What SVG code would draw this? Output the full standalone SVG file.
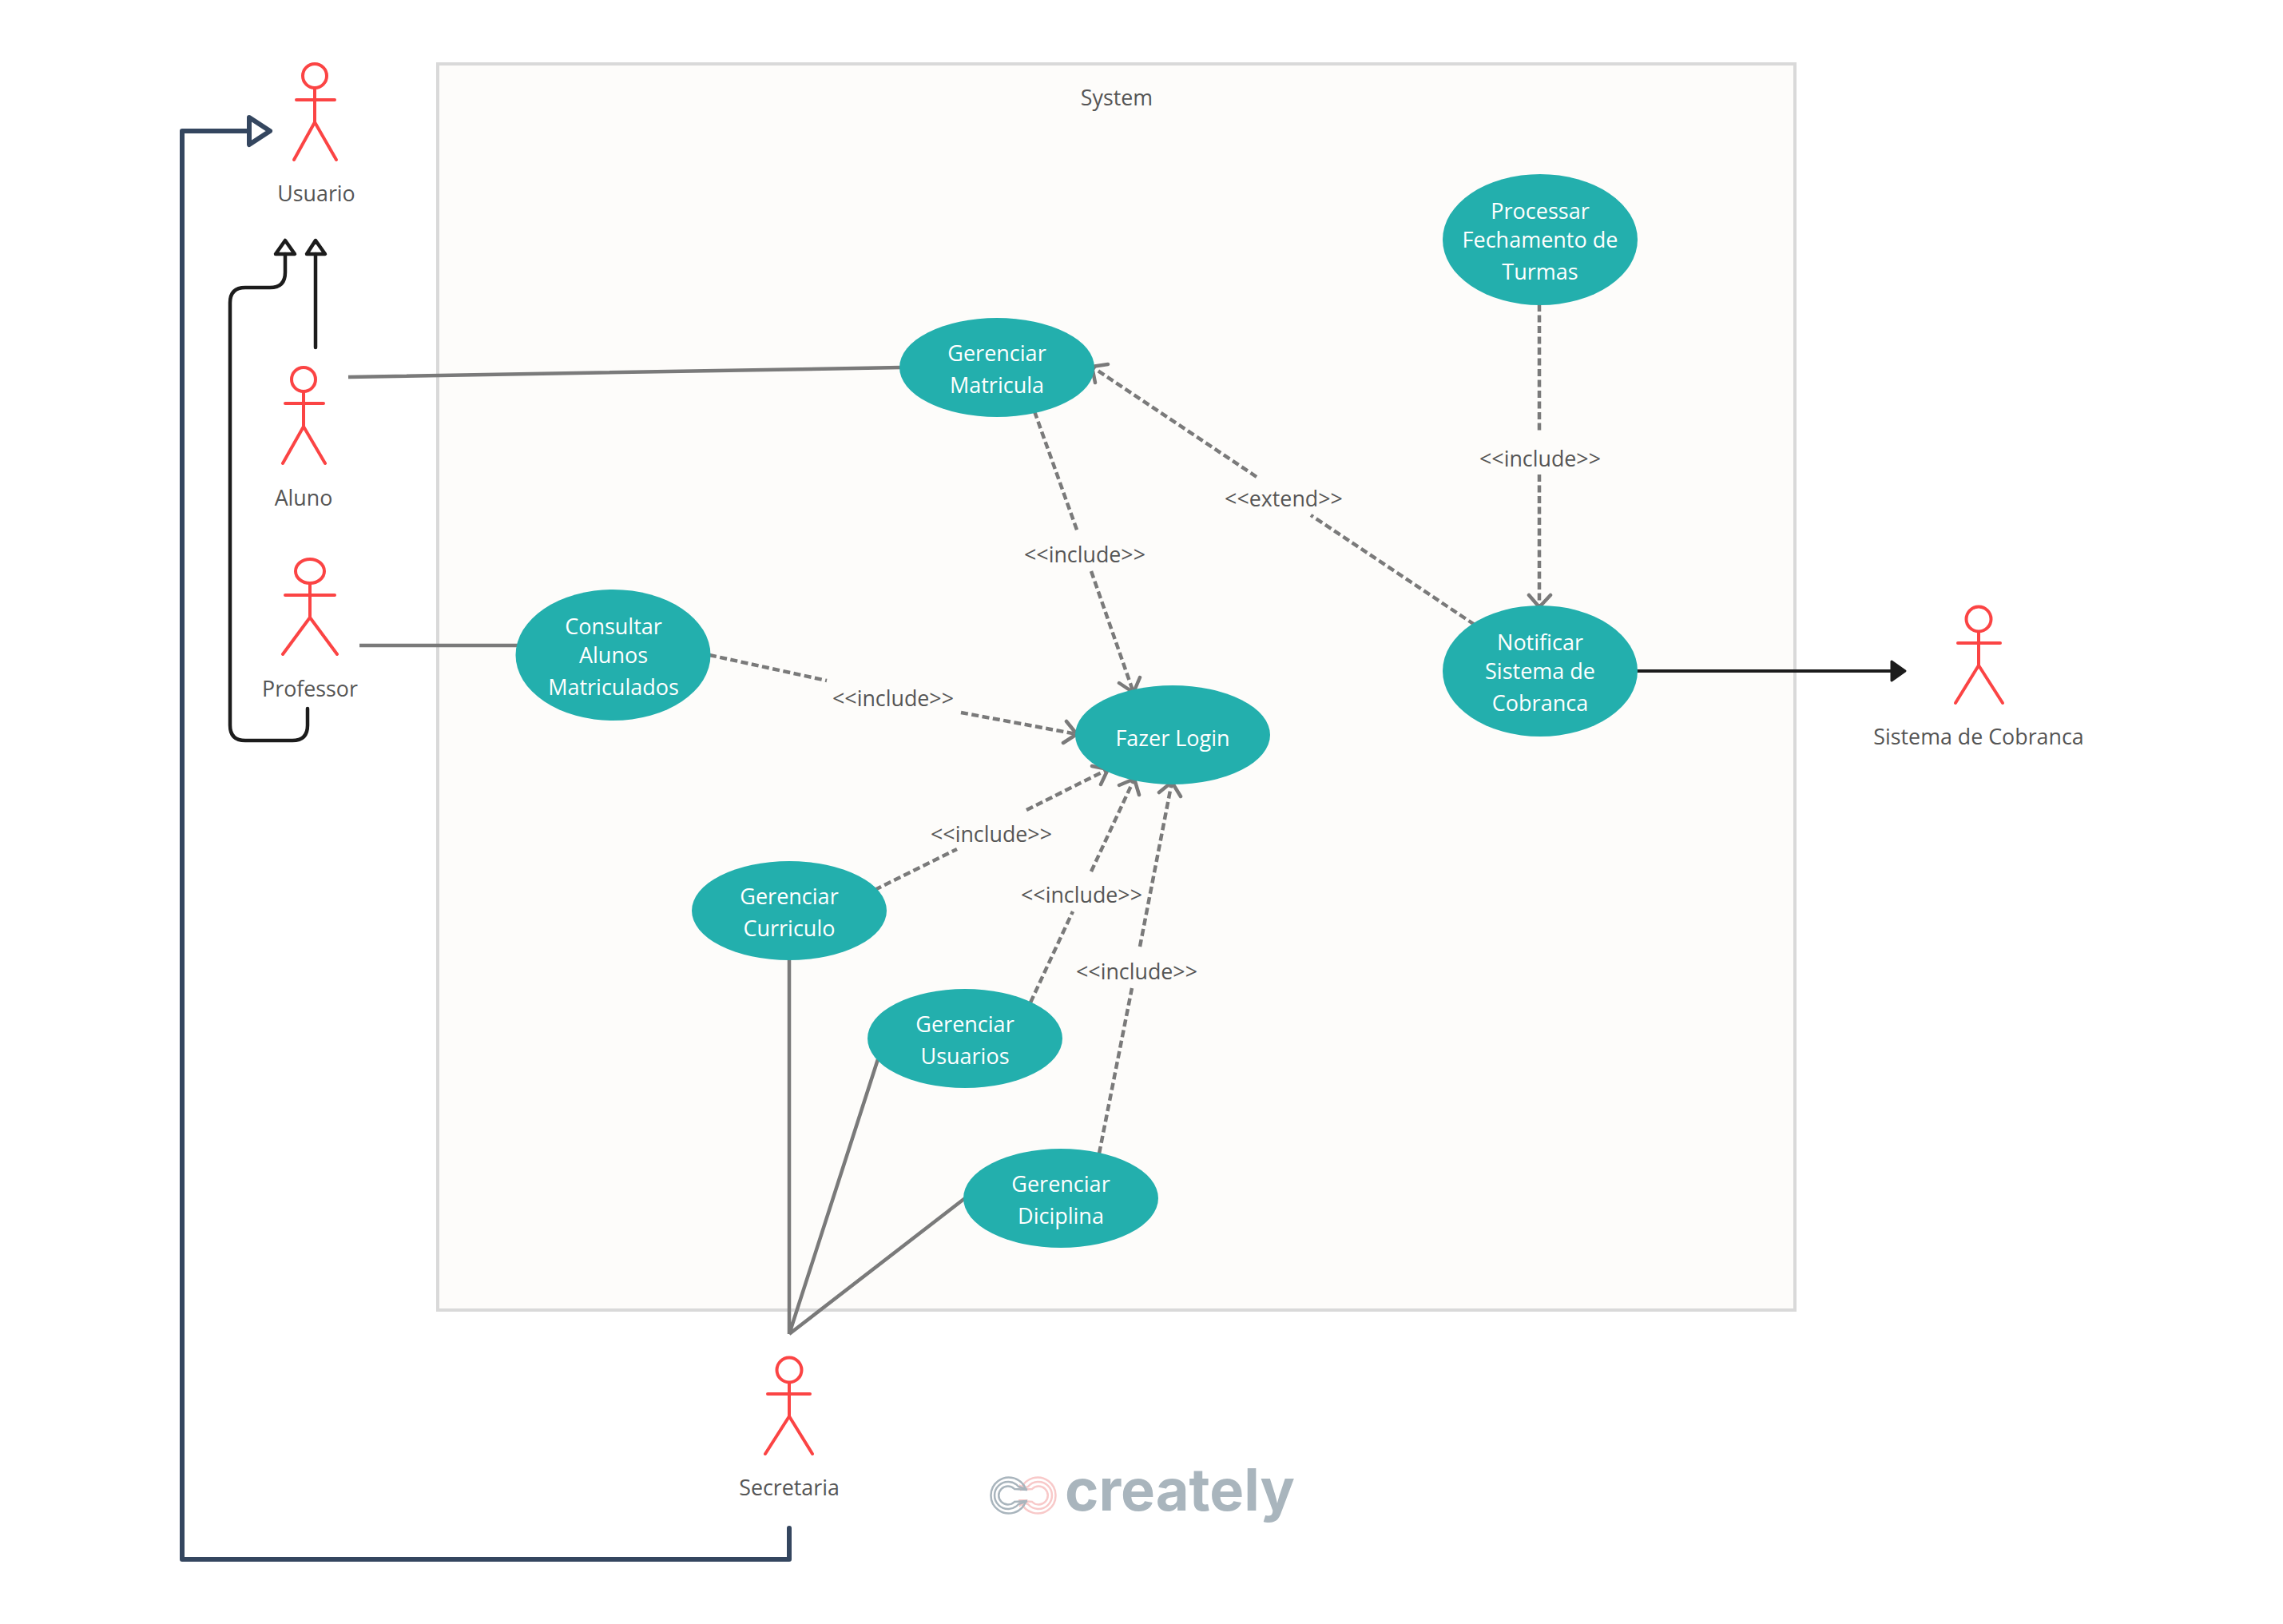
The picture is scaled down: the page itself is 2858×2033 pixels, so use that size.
<svg xmlns="http://www.w3.org/2000/svg" width="2858" height="2033" viewBox="0 0 2858 2033">
<defs>
<style>
.uc{fill:#23afad}
.ut{fill:#fff;font:27px "Open Sans","Noto Sans",sans-serif;text-anchor:middle}
.lb{fill:#555;font:26.8px "Open Sans","Noto Sans",sans-serif;text-anchor:middle}
.act{fill:none;stroke:#fb4444;stroke-width:4;stroke-linecap:round;stroke-linejoin:round}
.assoc{fill:none;stroke:#7a7a7a;stroke-width:4.5}
.dash{fill:none;stroke:#7a7a7a;stroke-width:4.5;stroke-dasharray:9 4.5}
.dh{fill:none;stroke:#7a7a7a;stroke-width:4.5;stroke-linecap:round;stroke-linejoin:round}
.gen{fill:none;stroke:#1c1c1c;stroke-width:4.5;stroke-linecap:round;stroke-linejoin:round}
</style>
</defs>
<rect width="2858" height="2033" fill="#fff"/>
<g id="system"><rect x="548" y="80" width="1699" height="1560" fill="#fdfcfa" stroke="#d9d9d9" stroke-width="4"/><text class="lb" x="1398" y="132">System</text></g>
<g id="connectors">
<path class="assoc" d="M436 472L1128 460M450 808H650M988 1200V1670M1099 1326L988 1670M1208 1500L988 1670"/>
<path class="dash" d="M1295 515L1349 666M1366 715L1419 867M1846 782L1641 645M1573 597L1367 459M1927 381V543M1927 594V759M888 820L1035 852M1203 892L1348 919M1095 1114L1198 1063M1285 1014L1387 963M1290 1255L1343 1141M1366 1091L1420 975M1376 1444L1417 1237M1427 1185L1467 979"/>
<path class="dh" d="M1401 855L1419 867L1427 848M1387 456L1367 459L1371 479M1914 745L1927 760L1941 745M1335 903L1348 919L1331 930M1367 959L1387 963L1378 982M1401 983L1420 975L1426 995M1451 992L1467 979L1478 997"/>
<path fill="none" stroke="#34465f" stroke-width="6" stroke-linecap="round" stroke-linejoin="round" d="M988 1913V1952H228V164H312"/>
<path fill="#fff" stroke="#34465f" stroke-width="6" stroke-linejoin="round" d="M312 147L338 164L312 181Z"/>
<path class="gen" d="M395 435V318M385 887V908Q385 927 366 927H307Q288 927 288 908V379Q288 360 307 360H338Q357 360 357 341V318"/>
<path class="gen" d="M384 318L395 301L407 318ZM345 318L357 301L369 318Z"/>
<path stroke="#1c1c1c" stroke-width="4" d="M2049 840H2372"/><path fill="#1c1c1c" stroke="#1c1c1c" stroke-width="3" stroke-linejoin="round" d="M2368 828L2385 840L2368 852Z"/>
<text class="lb" x="1358" y="704">&lt;&lt;include&gt;&gt;</text>
<text class="lb" x="1607" y="634">&lt;&lt;extend&gt;&gt;</text>
<text class="lb" x="1928" y="584">&lt;&lt;include&gt;&gt;</text>
<text class="lb" x="1118" y="884">&lt;&lt;include&gt;&gt;</text>
<text class="lb" x="1241" y="1054">&lt;&lt;include&gt;&gt;</text>
<text class="lb" x="1354" y="1130">&lt;&lt;include&gt;&gt;</text>
<text class="lb" x="1423" y="1226">&lt;&lt;include&gt;&gt;</text>
</g>
<g id="usuario"><path class="act" d="M394 111V153M371 125H419M368 200L394 153L421 200"/><ellipse class="act" cx="394" cy="95" rx="15" ry="15"/><text class="lb" x="396" y="252">Usuario</text></g>
<g id="aluno"><path class="act" d="M380 491V534M357 505H405M354 580L380 534L407 580"/><ellipse class="act" cx="380" cy="475" rx="15" ry="15"/><text class="lb" x="380" y="633">Aluno</text></g>
<g id="professor"><path class="act" d="M388 731V773M357 745H419M354 819L388 773L422 819"/><ellipse class="act" cx="388" cy="715" rx="18" ry="15"/><text class="lb" x="388" y="872">Professor</text></g>
<g id="secretaria"><path class="act" d="M988 1731V1773M961 1745H1014M958 1820L988 1773L1017 1820"/><ellipse class="act" cx="988" cy="1715" rx="15.500" ry="15.500"/><text class="lb" x="988" y="1872">Secretaria</text></g>
<g id="cobranca"><path class="act" d="M2477 791V833M2451 805H2504M2448 880L2477 833L2507 880"/><ellipse class="act" cx="2477" cy="775" rx="15.500" ry="15.500"/><text class="lb" x="2477" y="932">Sistema de Cobranca</text></g>
<g id="matricula"><ellipse class="uc" cx="1248" cy="460" rx="122" ry="62"/><text class="ut" x="1248" y="452">Gerenciar</text><text class="ut" x="1248" y="492">Matricula</text></g>
<g id="processar"><ellipse class="uc" cx="1928" cy="300" rx="122" ry="82"/><text class="ut" x="1928" y="274">Processar</text><text class="ut" x="1928" y="310">Fechamento de</text><text class="ut" x="1928" y="350">Turmas</text></g>
<g id="consultar"><ellipse class="uc" cx="767.500" cy="820" rx="122" ry="82"/><text class="ut" x="768" y="794">Consultar</text><text class="ut" x="768" y="830">Alunos</text><text class="ut" x="768" y="870">Matriculados</text></g>
<g id="notificar"><ellipse class="uc" cx="1928" cy="840" rx="122" ry="82"/><text class="ut" x="1928" y="814">Notificar</text><text class="ut" x="1928" y="850">Sistema de</text><text class="ut" x="1928" y="890">Cobranca</text></g>
<g id="login"><ellipse class="uc" cx="1468" cy="920" rx="122" ry="62"/><text class="ut" x="1468" y="934">Fazer Login</text></g>
<g id="curriculo"><ellipse class="uc" cx="988" cy="1140" rx="122" ry="62"/><text class="ut" x="988" y="1132">Gerenciar</text><text class="ut" x="988" y="1172">Curriculo</text></g>
<g id="usuarios"><ellipse class="uc" cx="1208" cy="1300" rx="122" ry="62"/><text class="ut" x="1208" y="1292">Gerenciar</text><text class="ut" x="1208" y="1332">Usuarios</text></g>
<g id="diciplina"><ellipse class="uc" cx="1328" cy="1500" rx="122" ry="62"/><text class="ut" x="1328" y="1492">Gerenciar</text><text class="ut" x="1328" y="1532">Diciplina</text></g>
<g id="logo">
<g fill="none" stroke="#f8c9c9" stroke-width="2.500"><path d="M1278 1864A22.500 22.500 0 1 1 1278 1880"/><path d="M1277 1865L1287 1861A17 17 0 1 1 1287 1883L1277 1879"/><path d="M1277 1865L1292 1864A11.500 11.500 0 1 1 1292 1880L1277 1879"/></g>
<path fill="#f8c9c9" d="M1276 1858L1287 1865H1275ZM1275 1877H1287L1276 1887Z"/>
<g fill="none" stroke="#a9b5bd" stroke-width="2.500"><path d="M1284 1864A22.500 22.500 0 1 0 1284 1880"/><path d="M1286 1865L1275 1861A17 17 0 1 0 1275 1883L1286 1879"/><path d="M1286 1865L1270 1864A11.500 11.500 0 1 0 1270 1880L1286 1879"/></g>
<text x="1333" y="1891" font-family="Inter,'Liberation Sans',sans-serif" font-weight="700" font-size="73" fill="#a9b5bd" textLength="288" lengthAdjust="spacingAndGlyphs">creately</text>
</g>
</svg>
